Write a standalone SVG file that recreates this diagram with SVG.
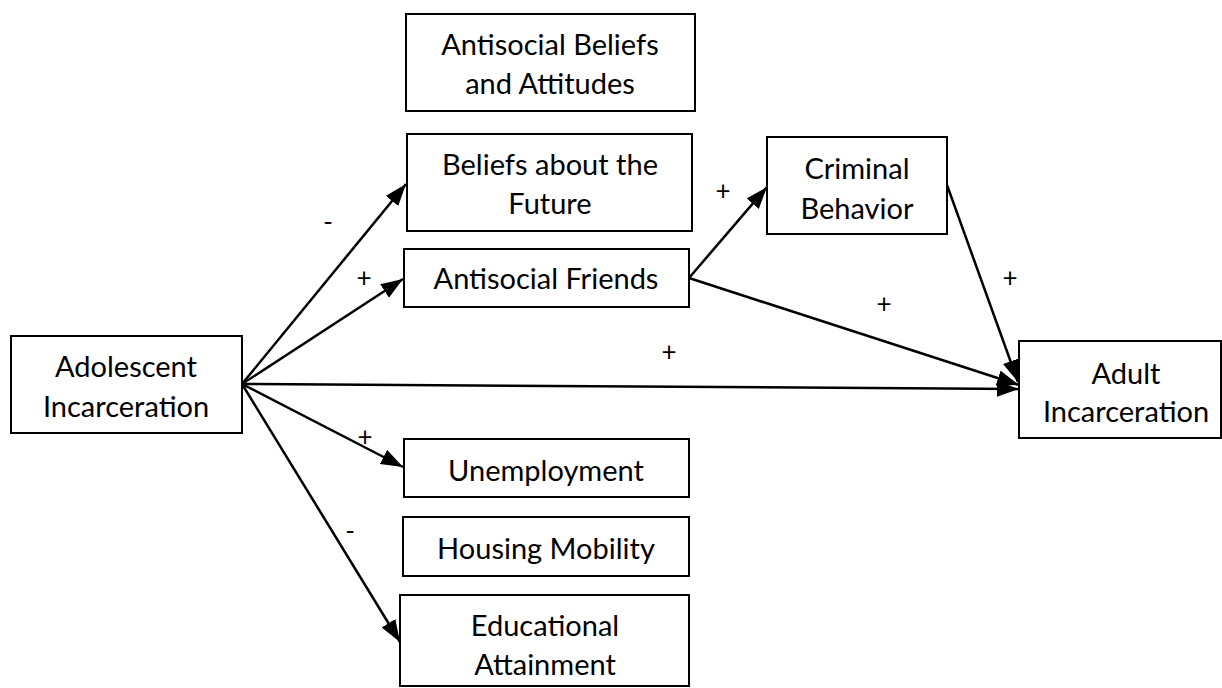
<svg xmlns="http://www.w3.org/2000/svg" width="1222" height="688" viewBox="0 0 1222 688">
<style>
.box{fill:#fff;stroke:#000;stroke-width:2}
.t{font-family:Lato,"Liberation Sans",sans-serif;font-size:29px;fill:#000;text-anchor:middle}
.l{font-family:Lato,"Liberation Sans",sans-serif;font-size:26px;fill:#000;text-anchor:middle}
.e{fill:none;stroke:#000;stroke-width:2.5}
</style>
<defs>
<marker id="ah" markerUnits="userSpaceOnUse" markerWidth="24" markerHeight="18" refX="22" refY="8" orient="auto">
<path d="M0,0 L22,8 L0,16 Z" fill="#000"/>
</marker>
</defs>
<rect width="1222" height="688" fill="#fff"/>
<g id="connectors">
<line class="e" x1="242" y1="384" x2="406" y2="184" marker-end="url(#ah)"/>
<line class="e" x1="242" y1="384" x2="403" y2="279" marker-end="url(#ah)"/>
<line class="e" x1="242" y1="384" x2="1019" y2="389" marker-end="url(#ah)"/>
<line class="e" x1="242" y1="384" x2="403" y2="467" marker-end="url(#ah)"/>
<line class="e" x1="242" y1="384" x2="400" y2="642" marker-end="url(#ah)"/>
<line class="e" x1="689" y1="278" x2="767" y2="187" marker-end="url(#ah)"/>
<line class="e" x1="689" y1="278" x2="1019" y2="385" marker-end="url(#ah)"/>
<line class="e" x1="947" y1="185" x2="1018" y2="382" marker-end="url(#ah)"/>
</g>
<g id="labels">
<text class="l" x="328" y="231">-</text>
<text class="l" x="364" y="287">+</text>
<text class="l" x="723" y="200">+</text>
<text class="l" x="1010" y="287">+</text>
<text class="l" x="884" y="313">+</text>
<text class="l" x="669" y="361">+</text>
<text class="l" x="365" y="446">+</text>
<text class="l" x="350" y="540">-</text>
</g>
<g id="n-antisocial-beliefs">
<rect class="box" x="406" y="14" width="289" height="97"/>
<text class="t" x="550" y="55">Antisocial Beliefs</text>
<text class="t" x="550" y="94">and Attitudes</text>
</g>
<g id="n-beliefs-future">
<rect class="box" x="407" y="134" width="285" height="97"/>
<text class="t" x="550" y="175">Beliefs about the</text>
<text class="t" x="550" y="214">Future</text>
</g>
<g id="n-antisocial-friends">
<rect class="box" x="404" y="249" width="285" height="58"/>
<text class="t" x="546" y="289">Antisocial Friends</text>
</g>
<g id="n-criminal">
<rect class="box" x="767" y="137" width="180" height="97"/>
<text class="t" x="857" y="179">Criminal</text>
<text class="t" x="857" y="219">Behavior</text>
</g>
<g id="n-adult">
<rect class="box" x="1019" y="341" width="202" height="97"/>
<text class="t" x="1126" y="384">Adult</text>
<text class="t" x="1126" y="422">Incarceration</text>
</g>
<g id="n-adolescent">
<rect class="box" x="11" y="336" width="231" height="97"/>
<text class="t" x="126" y="377">Adolescent</text>
<text class="t" x="126" y="417">Incarceration</text>
</g>
<g id="n-unemployment">
<rect class="box" x="404" y="439" width="285" height="58"/>
<text class="t" x="546" y="481">Unemployment</text>
</g>
<g id="n-housing">
<rect class="box" x="403" y="517" width="286" height="59"/>
<text class="t" x="546" y="559">Housing Mobility</text>
</g>
<g id="n-education">
<rect class="box" x="400" y="595" width="289" height="91"/>
<text class="t" x="545" y="636">Educational</text>
<text class="t" x="545" y="675">Attainment</text>
</g>
</svg>
